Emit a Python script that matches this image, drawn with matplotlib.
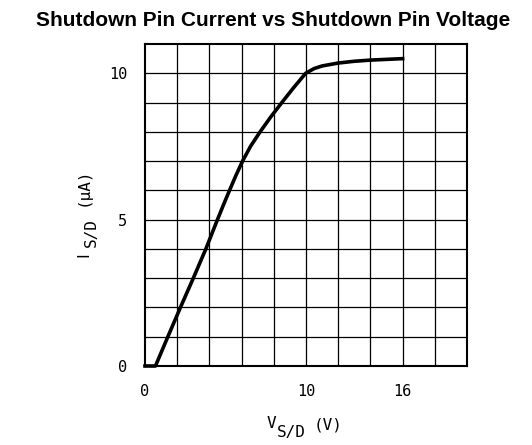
import matplotlib
matplotlib.use("Agg")
import matplotlib.pyplot as plt

# values
v_sd = [0, 0.65, 1.42, 2.2, 3.0, 3.78, 4.5, 4.87, 5.25, 5.64, 6.06, 6.55, 7.15, 7.8, 8.5, 9.22, 9.98,
        10.5, 11.0, 12.0, 13.0, 14.0, 16.0]
i_sd = [0, 0, 1.0, 2.0, 3.0, 4.0, 5.0, 5.5, 6.0, 6.5, 7.0, 7.5, 8.0, 8.5, 9.0, 9.5, 10.0,
        10.16, 10.25, 10.35, 10.41, 10.45, 10.5]

x_ticks = [0, 10, 16]
y_ticks = [0, 5, 10]

W, H = 532, 445
mono = "DejaVu Sans Mono"

fig = plt.figure(figsize=(W / 100, H / 100), dpi=100)
ax = fig.add_axes([145 / W, 1 - 366 / H, 322 / W, 322 / H])

for gx in range(2, 20, 2):
    ax.axvline(gx, color="black", lw=0.9, zorder=1)
for gy in range(1, 11):
    ax.axhline(gy, color="black", lw=0.9, zorder=1)

ax.plot(v_sd, i_sd, color="black", lw=2.6, solid_joinstyle="round",
        clip_on=False, zorder=4)

ax.set_xlim(0, 20)
ax.set_ylim(0, 11)
ax.set_xticks(x_ticks)
ax.set_yticks(y_ticks)
ax.tick_params(length=0, labelsize=11, pad=13)
for lab in ax.get_xticklabels() + ax.get_yticklabels():
    lab.set_family(mono)
for sp in ax.spines.values():
    sp.set_linewidth(1.5)


def put(txt, px, py, rot=0, family=mono):
    # place a piece of label text by its baseline start, in pixels from top-left
    fig.text(px / W, 1 - py / H, txt, family=family, fontsize=11.5,
             rotation=rot, rotation_mode="anchor", ha="left", va="baseline")


# x label: V_S/D (V)
put("V", 267, 428)
put("S/D", 277, 437)
put("(V)", 314, 429)

# y label: I_S/D (uA), reading upward
put("I", 88, 257, 90, "DejaVu Sans")
put("S/D", 96, 247, 90)
put("(\u03bcA)", 88, 206, 90)

fig.text(273.5 / W, 1 - 20 / H, "Shutdown Pin Current vs Shutdown Pin Voltage",
         ha="center", va="center", fontsize=15, fontweight="bold",
         family="Liberation Sans")

fig.savefig("out.png", dpi=100)
